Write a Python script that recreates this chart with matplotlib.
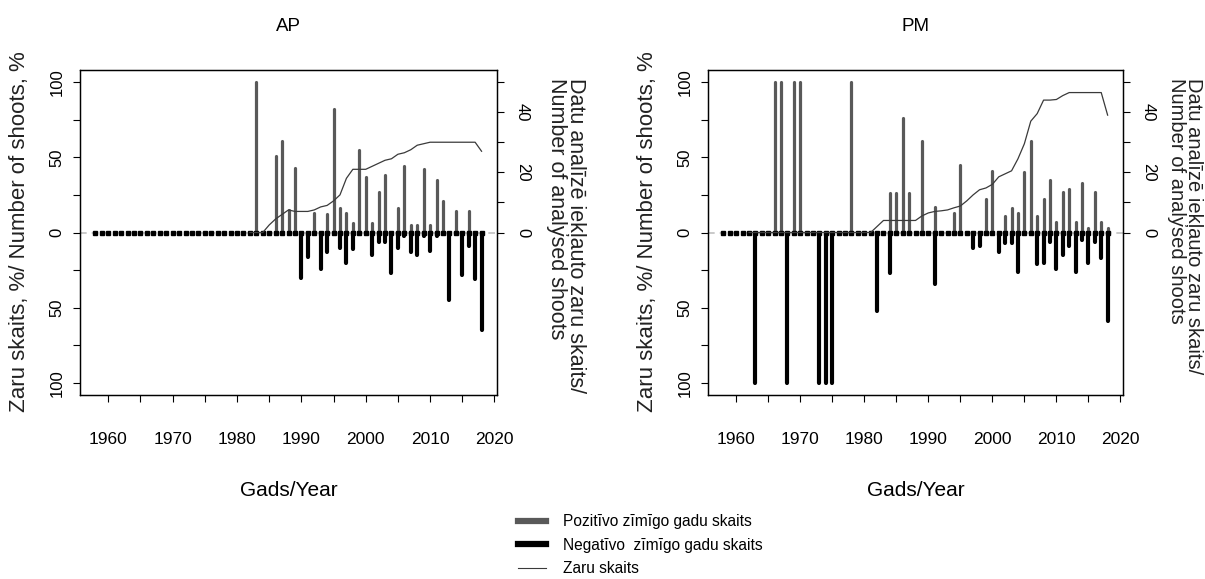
import matplotlib
matplotlib.use("Agg")
import matplotlib.pyplot as plt
from matplotlib.lines import Line2D
import numpy as np

# ---------------- data ----------------
years_all = list(range(1958, 2019))

ap_pos_years = [1983, 1986, 1987, 1988, 1989, 1992, 1994, 1995, 1996, 1997, 1998, 1999, 2000,
                2001, 2002, 2003, 2005, 2006, 2007, 2008, 2009, 2010, 2011, 2012, 2014, 2016]
ap_pos_vals = [100, 51, 61, 15, 43, 13, 12, 82, 16, 13, 6, 55, 37,
               6, 27, 38, 16, 44, 5, 5, 42, 5, 35, 21, 14, 14]
ap_neg_years = [1990, 1991, 1993, 1994, 1996, 1997, 1998, 2001, 2002, 2003, 2004, 2005, 2006,
                2007, 2008, 2009, 2010, 2011, 2013, 2015, 2016, 2017, 2018]
ap_neg_vals = [-30, -16, -24, -13, -10, -20, -11, -15, -6, -6, -27, -10, -2,
               -13, -15, -2, -12, -2, -45, -28, -9, -31, -65]
ap_line_years = list(range(1982, 2019))
ap_line_vals = [0, 0, 0, 2.5, 4.5, 6, 7.5, 7, 7, 7, 7.5, 8.5, 9, 10.5, 12.5, 18, 21, 21, 21,
                22, 23, 24, 24.5, 26, 26.5, 27.5, 29, 29.5, 30, 30, 30, 30, 30, 30, 30, 30, 27]

pm_pos_years = [1966, 1967, 1969, 1970, 1978, 1984, 1985, 1986, 1987, 1989, 1991, 1994, 1995,
                1999, 2000, 2002, 2003, 2004, 2005, 2006, 2007, 2008, 2009, 2010, 2011, 2012,
                2013, 2014, 2015, 2016, 2017, 2018]
pm_pos_vals = [100, 100, 100, 100, 100, 26, 26, 76, 26, 61, 17, 13, 45,
               22, 41, 11, 16, 13, 40, 61, 11, 22, 35, 7, 27, 29,
               7, 33, 3, 27, 7, 3]
pm_neg_years = [1963, 1968, 1973, 1974, 1975, 1982, 1984, 1991, 1997, 1998, 2001, 2002, 2003,
                2004, 2007, 2008, 2009, 2010, 2011, 2012, 2013, 2014, 2015, 2016, 2017, 2018]
pm_neg_vals = [-100, -100, -100, -100, -100, -52, -27, -34, -10, -9, -13, -7, -7,
               -26, -21, -20, -6, -24, -15, -9, -26, -5, -20, -6, -17, -59]
pm_line_years = list(range(1962, 2019))
pm_line_vals = [0] * 20 + [2, 4, 4, 4, 4, 4, 4, 5.5, 6.5, 7, 7.2, 7.5, 8.2, 8.8, 10.5, 12.5,
                           14.2, 14.8, 16, 18.5, 19.5, 20.5, 24.5, 29.5, 37, 39.5, 44, 44, 44.2,
                           45.5, 46.5, 46.5, 46.5, 46.5, 46.5, 46.5, 39]

panel_titles = ["AP", "PM"]
xlabel_text = "Gads/Year"
ylabel_text = "Zaru skaits, %/ Number of shoots, %"
ylabel2_text = "Datu analīzē iekļauto zaru skaits/\nNumber of analysed shoots"
legend_labels = ["Pozitīvo zīmīgo gadu skaits", "Negatīvo  zīmīgo gadu skaits", "Zaru skaits"]

x_ticks = list(range(1960, 2021, 5))
x_ticklabels = [str(t) if t % 10 == 0 else "" for t in x_ticks]
y_ticks = [-100, -75, -50, -25, 0, 25, 50, 75, 100]
y_ticklabels = ["100", "", "50", "", "0", "", "50", "", "100"]
y2_ticks = [0, 10, 20, 30, 40, 50]
y2_ticklabels = ["0", "", "20", "", "40", ""]

FONT = ["Liberation Sans", "DejaVu Sans"]

W, H = 1205, 579
fig = plt.figure(figsize=(W / 100, H / 100), dpi=100)

GRAY = "#595959"
LINEC = "#3a3a3a"


def panel(left_px, width_px, title, pos_y, pos_v, neg_y, neg_v, line_y, line_v,
          ylab_x, y2lab_x, y2lab_size):
    ax = fig.add_axes([left_px / W, 1 - 395 / H, width_px / W, 325 / H])
    ax.axhline(0, color="#c0c0c0", ls=(0, (4, 3)), lw=1.2, zorder=1)
    vp = ax.vlines(pos_y, 0, pos_v, color=GRAY, lw=2.3, zorder=2)
    vp.set_capstyle("round")
    vn = ax.vlines(neg_y, 0, neg_v, color="black", lw=3.0, zorder=3)
    vn.set_capstyle("round")
    ax.plot(years_all, np.zeros(len(years_all)), ls="none", marker="s", ms=2.4,
            mec="black", mfc="black", zorder=4)
    ax.set_xlim(1955.6, 2020.4)
    ax.set_ylim(-108, 108)
    ax.set_xticks(x_ticks)
    ax.set_xticklabels(x_ticklabels, family=FONT, fontsize=12.5)
    ax.set_yticks(y_ticks)
    ax.set_yticklabels(y_ticklabels, family=FONT, fontsize=12, rotation=90, va="center")
    ax.tick_params(axis="x", direction="out", length=5, width=0.8, pad=22)
    ax.tick_params(axis="y", direction="out", length=5, width=0.8, pad=6)
    for s in ax.spines.values():
        s.set_linewidth(0.9)
        s.set_color("black")
    ax.set_title(title, family=FONT, fontsize=13.5, pad=28)
    ax.set_xlabel(xlabel_text, family=FONT, fontsize=15, labelpad=24)

    tw = ax.twinx()
    tw.plot(line_y, line_v, color=LINEC, lw=0.9, zorder=5)
    tw.set_ylim(-54, 54)
    tw.set_yticks(y2_ticks)
    tw.set_yticklabels(y2_ticklabels, family=FONT, fontsize=12, rotation=270, va="center")
    tw.tick_params(axis="y", direction="out", length=5, width=0.8, pad=8)
    for s in tw.spines.values():
        s.set_linewidth(0.9)

    fig.text(ylab_x / W, 1 - 232 / H, ylabel_text, rotation=90, ha="center", va="center",
             family=FONT, fontsize=16, color="#222222")
    fig.text(y2lab_x / W, 1 - 78 / H, ylabel2_text, rotation=270, ha="center", va="top",
             multialignment="left", linespacing=0.92, family=FONT, fontsize=y2lab_size,
             color="#222222")
    return ax


panel(80, 417, panel_titles[0], ap_pos_years, ap_pos_vals, ap_neg_years, ap_neg_vals,
      ap_line_years, ap_line_vals, 20, 566, 15.5)
panel(708, 415, panel_titles[1], pm_pos_years, pm_pos_vals, pm_neg_years, pm_neg_vals,
      pm_line_years, pm_line_vals, 647, 1185, 14.5)

handles = [Line2D([], [], color=GRAY, lw=4.5),
           Line2D([], [], color="black", lw=4.5),
           Line2D([], [], color=LINEC, lw=0.8)]
fig.legend(handles, legend_labels, loc="upper left", bbox_to_anchor=(518 / W, 1 - 514 / H),
           frameon=False, prop={"family": FONT, "size": 11.2}, handlelength=1.8,
           handletextpad=1.1, labelspacing=0.55, borderaxespad=0, borderpad=0)

fig.savefig("out.png", dpi=100)
